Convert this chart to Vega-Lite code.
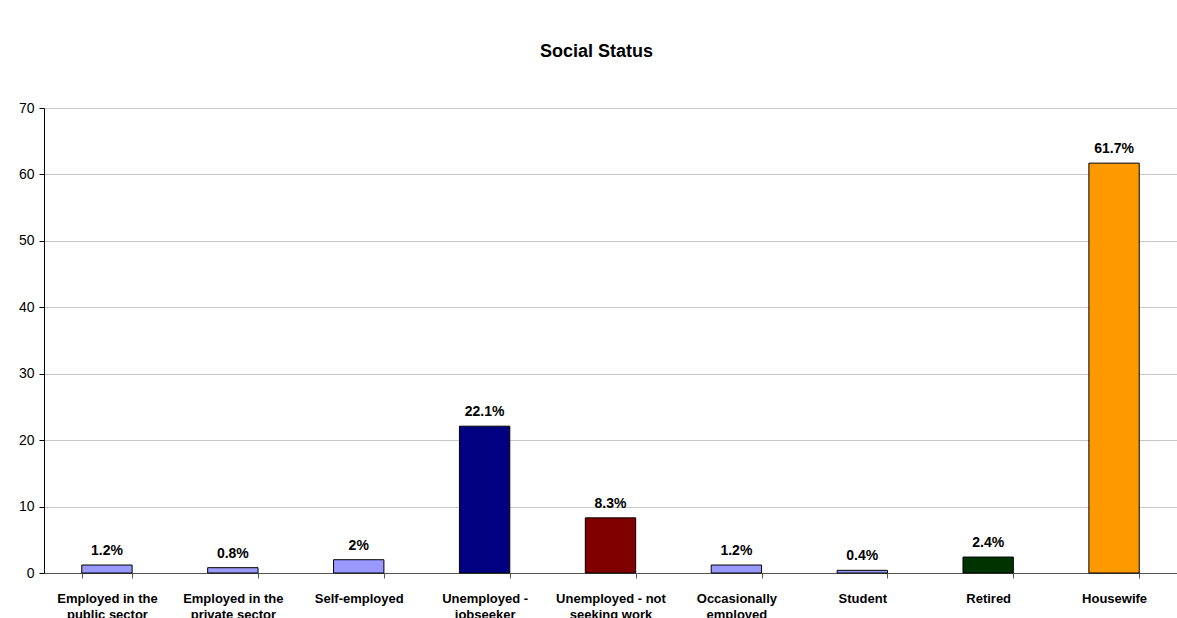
{
  "$schema": "https://vega.github.io/schema/vega-lite/v6.json",
  "autosize": "none",
  "width": 1133,
  "height": 465,
  "padding": {"left": 44, "top": 108, "right": 0, "bottom": 45},
  "background": "white",
  "config": {
    "font": "Liberation Sans",
    "view": {"stroke": null}
  },
  "title": {
    "text": "Social Status",
    "fontSize": 18,
    "fontWeight": "bold",
    "color": "black",
    "offset": 40,
    "dx": -14
  },
  "data": {
    "values": [
      {"status": "Employed in the public sector", "value": 1.2, "label": "1.2%", "color": "#9999FF"},
      {"status": "Employed in the private sector", "value": 0.8, "label": "0.8%", "color": "#9999FF"},
      {"status": "Self-employed", "value": 2, "label": "2%", "color": "#9999FF"},
      {"status": "Unemployed - jobseeker", "value": 22.1, "label": "22.1%", "color": "#000080"},
      {"status": "Unemployed - not seeking work", "value": 8.3, "label": "8.3%", "color": "#800000"},
      {"status": "Occasionally employed", "value": 1.2, "label": "1.2%", "color": "#9999FF"},
      {"status": "Student", "value": 0.4, "label": "0.4%", "color": "#9999FF"},
      {"status": "Retired", "value": 2.4, "label": "2.4%", "color": "#003300"},
      {"status": "Housewife", "value": 61.7, "label": "61.7%", "color": "#FF9900"}
    ]
  },
  "encoding": {
    "x": {
      "field": "status",
      "type": "nominal",
      "sort": null,
      "scale": {"paddingInner": 0.6, "paddingOuter": 0.3},
      "axis": {
        "title": null,
        "labelAngle": 0,
        "labelLimit": 0,
        "labelFontSize": 13,
        "labelFontWeight": "bold",
        "labelColor": "black",
        "labelPadding": 14,
        "labelLineHeight": 16,
        "labelExpr": "split(replace(datum.label, /^(Employed in the|Unemployed - not|Unemployed -|Occasionally) /, '$1|'), '|')",
        "tickBand": "extent",
        "tickSize": 5,
        "tickColor": "#555555",
        "domainColor": "#555555",
        "grid": false
      }
    },
    "y": {
      "field": "value",
      "type": "quantitative",
      "scale": {"domain": [0, 70], "nice": false},
      "axis": {
        "title": null,
        "values": [0, 10, 20, 30, 40, 50, 60, 70],
        "labelFontSize": 14,
        "labelColor": "black",
        "labelPadding": 5,
        "tickSize": 5,
        "tickColor": "black",
        "domainColor": "black",
        "gridColor": "#c8c8c8"
      }
    }
  },
  "layer": [
    {
      "mark": {"type": "bar", "stroke": "black", "strokeWidth": 1},
      "encoding": {
        "color": {"field": "color", "type": "nominal", "scale": null}
      }
    },
    {
      "mark": {"type": "text", "fontSize": 14, "fontWeight": "bold", "baseline": "alphabetic", "dy": -10, "color": "black"},
      "encoding": {
        "text": {"field": "label", "type": "nominal"}
      }
    }
  ]
}
